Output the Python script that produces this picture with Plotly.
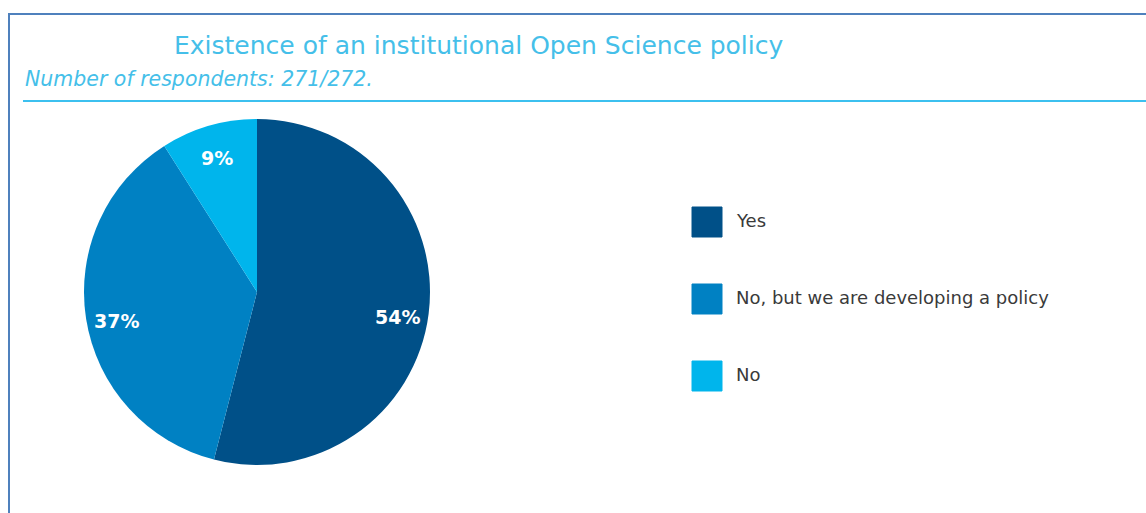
import math
import plotly.graph_objects as go

categories = ["Yes", "No, but we are developing a policy", "No"]
values = [54, 37, 9]
colors = ["#005088", "#0081c3", "#00b5ec"]
title_text = "Existence of an institutional Open Science policy"
subtitle_text = "Number of respondents: 271/272."

W, H = 1146, 513
FONT = "DejaVu Sans"


def px(x):
    return x / W


def py(y):
    return (H - y) / H


# pie geometry (pixels)
cx, cy, R = 257, 292, 173

fig = go.Figure()
fig.add_trace(go.Pie(
    labels=categories,
    values=values,
    sort=False,
    direction="clockwise",
    rotation=0,
    marker=dict(colors=colors, line=dict(width=0)),
    textinfo="none",
    showlegend=False,
    hoverinfo="label+value",
    domain=dict(x=[px(cx - R), px(cx + R)], y=[py(cy + R), py(cy - R)]),
))

shapes = [
    dict(type="rect", xref="paper", yref="paper", x0=px(9), x1=px(W + 20), y0=py(H + 20), y1=py(14),
         line=dict(color="#4f81bd", width=2), fillcolor="rgba(0,0,0,0)"),
    dict(type="line", xref="paper", yref="paper", x0=px(23), x1=px(W + 5), y0=py(101), y1=py(101),
         line=dict(color="#3cc0ef", width=2)),
]

annotations = [
    dict(text=title_text, xref="paper", yref="paper", x=px(172), y=py(45), xanchor="left", yanchor="middle",
         showarrow=False, font=dict(family=FONT, size=25, color="#45bfe9")),
    dict(text="<i>" + subtitle_text + "</i>", xref="paper", yref="paper", x=px(23), y=py(79), xanchor="left",
         yanchor="middle", showarrow=False, font=dict(family=FONT, size=20.5, color="#45bfe9")),
]

# percentage labels placed along each slice's mid-angle
total = sum(values)
cum = 0
for v in values:
    mid = (cum + v / 2) / total * 2 * math.pi
    cum += v
    r = 0.82 * R
    lx = cx + r * math.sin(mid)
    ly = cy - r * math.cos(mid) + 7 * abs(math.sin(mid))
    annotations.append(dict(text="<b>%d%%</b>" % v, xref="paper", yref="paper", x=px(lx), y=py(ly),
                            xanchor="center", yanchor="middle", showarrow=False,
                            font=dict(family=FONT, size=19, color="white")))

# custom legend
leg_x0, leg_y0, leg_gap, box = 692, 207, 77, 30
for i, (cat, col) in enumerate(zip(categories, colors)):
    y0 = leg_y0 + i * leg_gap
    shapes.append(dict(type="rect", xref="paper", yref="paper", x0=px(leg_x0), x1=px(leg_x0 + box),
                       y0=py(y0 + box), y1=py(y0), fillcolor=col, line=dict(color=col, width=1)))
    annotations.append(dict(text=cat, xref="paper", yref="paper", x=px(leg_x0 + 42), y=py(y0 + 13),
                            xanchor="left", yanchor="middle", showarrow=False,
                            font=dict(family=FONT, size=18, color="#3a3a3a")))

fig.update_layout(
    width=W, height=H,
    margin=dict(l=0, r=0, t=0, b=0),
    paper_bgcolor="white",
    plot_bgcolor="white",
    shapes=shapes,
    annotations=annotations,
)

fig.write_html("out.html", config={"displayModeBar": False},
               post_script="document.body.style.margin='0';")
